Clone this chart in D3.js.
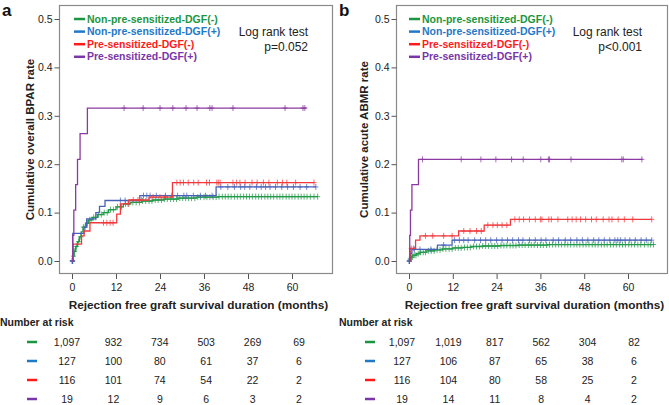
<!DOCTYPE html>
<html>
<head>
<meta charset="utf-8">
<script src="https://cdn.jsdelivr.net/npm/d3@7"></script>
<style>
  body { margin: 0; background: #fff; }
  svg { font-family: "Liberation Sans", Arial, sans-serif; }
</style>
</head>
<body>
<svg id="chart" width="669" height="405"></svg>
<script>
// groups, shared by both panels
var groups = ["Non-pre-sensitized-DGF(-)", "Non-pre-sensitized-DGF(+)", "Pre-sensitized-DGF(-)", "Pre-sensitized-DGF(+)"];
var lineColors = ["#23994a", "#4862b8", "#f0393c", "#8a3aa0"];
var labelColors = ["#1a9641", "#1f78c8", "#ff1a1a", "#7a35a8"];
var riskTimes = [0, 12, 24, 36, 48, 60];
var yTicks = [0.0, 0.1, 0.2, 0.3, 0.4, 0.5];

// panel a : overall BPAR, steps as [month, cumulative rate]
var stepsA_green = [[0,0],[0.3,0.01],[0.6,0.02],[1,0.03],[1.5,0.04],[2,0.05],[2.5,0.06],[3,0.07],[3.7,0.078],[4.5,0.085],[5.5,0.09],[7,0.096],[8.5,0.1],[10,0.106],[12,0.112],[14,0.118],[16,0.121],[19,0.124],[22,0.126],[25,0.128],[29,0.13],[34,0.132],[40,0.133]];
var stepsA_blue = [[0,0],[0.2,0.057],[3.3,0.07],[4,0.087],[6.5,0.1],[7.5,0.113],[9,0.125],[18.5,0.135],[39.3,0.153]];
var stepsA_red = [[0,0],[0.3,0.035],[2.6,0.052],[3.3,0.062],[4.9,0.079],[12.2,0.097],[13.2,0.118],[15.5,0.126],[21,0.132],[27.4,0.162]];
var stepsA_purple = [[0,0],[0.2,0.053],[0.5,0.105],[1,0.158],[1.5,0.21],[2.2,0.263],[4.2,0.316]];
var endA = [67, 66.5, 66, 64];

var censA_green = [0.1,0.2,0.4,0.7,1.2,1.8,2.4,3.1,3.6,4.2,4.8,5.2,5.9,6.5,7.2,8,8.8,9.6,10.5,11.3,12.4,13.5,14.6,15.5,16.6,17.5,18.4,19.2,20.1,21,21.8,22.7,23.5,24.4,25.2,26,26.9,27.7,28.5,29.4,30.2,31,31.8,32.6,33.5,34.3,35.1,36,36.8,37.6,38.5,39.3,40.1,41,41.8,42.6,43.4,44.3,45.1,45.9,46.8,47.6,48.4,49.2,50.1,50.9,51.7,52.6,53.4,54.2,55,55.9,56.7,57.5,58.4,59.2,60,60.8,61.7,62.5,63.3,64.1,65,66,67];
var censA_blue = [0.05,0.1,0.15,13.2,14.5,19.5,20.4,21.3,23,25.5,27.2,28.8,30.5,31.3,33.1,35,36.4,38.2,40.6,42.5,44.3,46,47.1,48.5,50.3,51.6,52.8,54,55.5,57.2,58.8,60.4,62.2,64,66.5];
var censA_red = [8.6,9.5,10.4,11.2,15.3,16.7,18,19,22.1,24,25.4,28.6,29.5,30.4,31.7,33.2,34.4,36.7,37.5,39.5,39.9,40.4,43.9,44.9,45.8,47.2,49.1,50.5,52.2,53.7,56,57.4,58.6,61,66];
var censA_purple = [14.2,19.4,24,27.5,31.1,34.1,37.6,38.2,43.9,58.1,63,63.5];

// panel b : acute ABMR
var stepsB_green = [[0,0],[0.2,0.004],[0.5,0.008],[1,0.012],[2,0.015],[3,0.018],[4.7,0.021],[7,0.023],[9.2,0.025],[12,0.027],[14.7,0.028],[17,0.03],[20.2,0.031],[25,0.032],[30,0.033],[38,0.034]];
var stepsB_blue = [[0,0],[0.2,0.008],[0.4,0.016],[0.8,0.024],[7.8,0.033],[11.8,0.043]];
var stepsB_red = [[0,0],[0.3,0.026],[1.8,0.043],[3,0.052],[13.6,0.062],[20.6,0.074],[27.8,0.086]];
var stepsB_purple = [[0,0],[0.2,0.053],[0.4,0.105],[0.8,0.158],[2.6,0.21]];
var endB = [67, 66.5, 66.5, 64];

var censB_green = [0.1,0.3,0.6,0.9,1.4,1.9,2.5,3.2,3.9,4.5,5.3,6.1,6.9,7.7,8.5,9.3,10.1,11,11.8,12.7,13.5,14.3,15.2,16,16.8,17.7,18.5,19.3,20.2,21,21.8,22.7,23.5,24.3,25.2,26,26.8,27.7,28.5,29.3,30.2,31,31.8,32.7,33.5,34.3,35.2,36,36.8,37.7,38.5,39.3,40.2,41,41.8,42.7,43.5,44.3,45.2,46,46.8,47.7,48.5,49.3,50.2,51,51.8,52.7,53.5,54.3,55.2,56,56.8,57.7,58.5,59.3,60.2,61,61.8,62.7,63.5,64.5,65.5,66.2,67];
var censB_blue = [0.05,0.1,0.15,1.5,3,6,9.5,12.5,13.8,15,16.2,18,19.6,21,22.4,24,25.5,27,28.4,30,31.2,33,34.6,36.2,37.5,39.5,41,42.8,44.3,46,47.5,49,50.6,52,53.5,55,56.4,57.2,58,59.2,60.5,62,63.6,65,66.5];
var censB_red = [0.6,1.2,4.5,6.5,9.5,11.8,15,16.7,18.5,19.8,21.6,23,24.2,25.5,26.8,29,30.2,31.4,33,34.6,36,36.4,38.3,39,40.8,43.5,44.7,45.8,47,48.4,50,51.3,53.2,54.8,55.6,57.3,59,61.3,66.5];
var censB_purple = [3.7,14.3,19.7,23.8,28.1,31.3,36.1,38.2,38.5,44.4,58.3,58.7,63.8];

// number at risk
var riskA = [[1097, 932, 734, 503, 269, 69], [127, 100, 80, 61, 37, 6], [116, 101, 74, 54, 22, 2], [19, 12, 9, 6, 3, 2]];
var riskB = [[1097, 1019, 817, 562, 304, 82], [127, 106, 87, 65, 38, 6], [116, 104, 80, 58, 25, 2], [19, 14, 11, 8, 4, 2]];

var svg = d3.select("#chart");
var fmt = d3.format(",");

function stepValue(steps, t) {
  var v = 0;
  steps.forEach(function (s) { if (s[0] <= t) v = s[1]; });
  return v;
}

function drawPanel(p) {
  var g = svg.append("g");
  var x = d3.scaleLinear().domain([0, 60]).range(p.xRange);
  var y = d3.scaleLinear().domain([0, 0.5]).range([261, 19]);

  // plot frame
  g.append("rect")
    .attr("x", p.box[0] + 0.5).attr("y", 5.5)
    .attr("width", p.box[1] - p.box[0]).attr("height", 268)
    .attr("fill", "none").attr("stroke", "#8a8a8a").attr("stroke-width", 1.2);

  // y axis
  var yAxis = d3.axisLeft(y).tickValues(yTicks).tickSize(5).tickFormat(d3.format(".1f"));
  var ya = g.append("g").attr("transform", "translate(" + (p.box[0] + 0.5) + ",0)").call(yAxis);
  ya.select(".domain").remove();
  ya.selectAll("line").attr("stroke", "#555");
  ya.selectAll("text").attr("font-size", 10.5).attr("fill", "#222")
    .attr("font-family", "Liberation Sans, Arial, sans-serif").attr("x", -7);

  // x axis
  var xAxis = d3.axisBottom(x).tickValues(riskTimes).tickSize(5);
  var xa = g.append("g").attr("transform", "translate(0,274)").call(xAxis);
  xa.select(".domain").remove();
  xa.selectAll("line").attr("stroke", "#555");
  xa.selectAll("text").attr("font-size", 10.5).attr("fill", "#222")
    .attr("font-family", "Liberation Sans, Arial, sans-serif").attr("y", 10);

  // axis titles
  g.append("text")
    .attr("transform", "translate(" + p.yTitleX + ",139.5) rotate(-90)")
    .attr("text-anchor", "middle").attr("dy", "0.35em")
    .attr("font-size", 11.5).attr("font-weight", "bold").attr("fill", "#222")
    .text(p.yTitle);
  g.append("text")
    .attr("x", (p.box[0] + p.box[1]) / 2 + 3).attr("y", 309)
    .attr("text-anchor", "middle")
    .attr("font-size", 11.8).attr("font-weight", "bold").attr("fill", "#222")
    .text("Rejection free graft survival duration (months)");

  // panel letter
  g.append("text")
    .attr("x", p.letterX).attr("y", 16)
    .attr("font-size", 17).attr("font-weight", "bold").attr("fill", "#111")
    .text(p.letter);

  // curves
  var line = d3.line().curve(d3.curveStepAfter)
    .x(function (d) { return x(d[0]); })
    .y(function (d) { return y(d[1]); });

  p.steps.forEach(function (steps, i) {
    var pts = steps.concat([[p.ends[i], steps[steps.length - 1][1]]]);
    g.append("path").datum(pts)
      .attr("d", line)
      .attr("fill", "none")
      .attr("stroke", lineColors[i])
      .attr("stroke-width", 1.3);

    // censor marks "+"
    g.append("g").selectAll("path")
      .data(p.cens[i])
      .join("path")
      .attr("d", function (t) {
        var cx = x(t), cy = y(stepValue(steps, t));
        return "M" + (cx - 2.5) + "," + cy + "H" + (cx + 2.5) +
               "M" + cx + "," + (cy - 3) + "V" + (cy + 3);
      })
      .attr("stroke", lineColors[i])
      .attr("stroke-width", 1)
      .attr("opacity", 0.75)
      .attr("fill", "none");
  });

  // legend
  groups.forEach(function (name, i) {
    var ly = 19 + i * 12.6;
    g.append("line")
      .attr("x1", p.legX).attr("x2", p.legX + 11)
      .attr("y1", ly).attr("y2", ly)
      .attr("stroke", labelColors[i]).attr("stroke-width", 2.5);
    g.append("text")
      .attr("x", p.legX + 13).attr("y", ly).attr("dy", "0.35em")
      .attr("font-size", 10.5).attr("font-weight", "bold")
      .attr("fill", labelColors[i])
      .text(name);
  });

  // log rank text
  g.append("text")
    .attr("x", p.lrX).attr("y", 36).attr("text-anchor", "end")
    .attr("font-size", 12).attr("fill", "#222")
    .text("Log rank test");
  g.append("text")
    .attr("x", p.lrX).attr("y", 51).attr("text-anchor", "end")
    .attr("font-size", 12).attr("fill", "#222")
    .text(p.pText);

  // number at risk table
  g.append("text")
    .attr("x", p.nrX).attr("y", 326)
    .attr("font-size", 10.5).attr("font-weight", "bold").attr("fill", "#222")
    .text("Number at risk");

  var rx = d3.scaleLinear().domain([0, 60]).range(p.riskRange);
  p.risk.forEach(function (row, i) {
    var ry = 342 + i * 19;
    g.append("line")
      .attr("x1", p.dashX).attr("x2", p.dashX + 10)
      .attr("y1", ry).attr("y2", ry)
      .attr("stroke", labelColors[i]).attr("stroke-width", 2.5);
    g.append("g").selectAll("text")
      .data(row)
      .join("text")
      .attr("x", function (d, j) { return rx(riskTimes[j]); })
      .attr("y", ry).attr("dy", "0.35em")
      .attr("text-anchor", "middle")
      .attr("font-size", 10.5).attr("fill", "#222")
      .text(function (d) { return fmt(d); });
  });
}

drawPanel({
  letter: "a", letterX: 2,
  box: [59, 332], xRange: [72, 292],
  yTitle: "Cumulative overall BPAR rate", yTitleX: 30,
  steps: [stepsA_green, stepsA_blue, stepsA_red, stepsA_purple],
  cens: [censA_green, censA_blue, censA_red, censA_purple],
  ends: endA,
  legX: 74, lrX: 308, pText: "p=0.052",
  nrX: 0, dashX: 27, riskRange: [67, 299], risk: riskA
});

drawPanel({
  letter: "b", letterX: 339,
  box: [396, 667], xRange: [409, 628],
  yTitle: "Cumulative acute ABMR rate", yTitleX: 364,
  steps: [stepsB_green, stepsB_blue, stepsB_red, stepsB_purple],
  cens: [censB_green, censB_blue, censB_red, censB_purple],
  ends: endB,
  legX: 409, lrX: 642, pText: "p<0.001",
  nrX: 339, dashX: 365, riskRange: [402, 634], risk: riskB
});
</script>
</body>
</html>
